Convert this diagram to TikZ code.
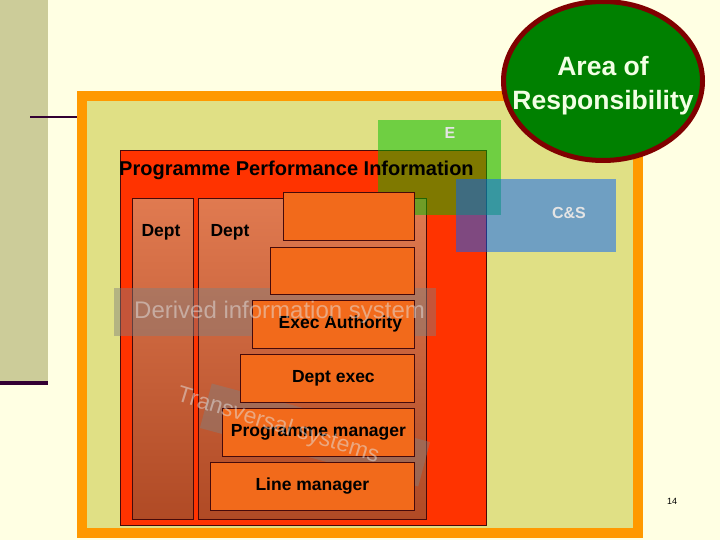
\documentclass[tikz,border=0pt]{standalone}
\usepackage{fontspec}
\setmainfont{Liberation Sans}
\usetikzlibrary{shapes.geometric, positioning, calc}

\definecolor{cream}{RGB}{255,255,227}
\definecolor{sidebar}{RGB}{204,204,153}
\definecolor{plum}{RGB}{51,0,51}
\definecolor{khaki}{RGB}{224,224,133}
\definecolor{frameorange}{RGB}{255,153,0}
\definecolor{ppired}{RGB}{255,51,0}
\definecolor{deptlight}{RGB}{224,122,80}
\definecolor{deptdark}{RGB}{176,74,37}
\definecolor{rankorange}{RGB}{242,106,27}
\definecolor{edgebrown}{RGB}{70,10,10}
\definecolor{aorgreen}{RGB}{0,128,0}
\definecolor{aorred}{RGB}{128,0,0}
\definecolor{egreen}{RGB}{0,192,0}
\definecolor{csblue}{RGB}{0,96,255}
\definecolor{ghost}{RGB}{228,228,228}
\definecolor{aortext}{RGB}{242,255,228}

\begin{document}
\begin{tikzpicture}[
    x=1pt, y=-1pt,
    outerframe/.style={rectangle, draw=frameorange, line width=10pt, fill=khaki, anchor=north west, inner sep=0pt},
    ppibox/.style={rectangle, draw=edgebrown, line width=0.8pt, fill=ppired, anchor=north west, inner sep=0pt},
    deptcol/.style={rectangle, draw=edgebrown, line width=0.8pt, top color=deptlight, bottom color=deptdark, anchor=north west, inner sep=0pt, minimum height=321pt},
    rankbox/.style={rectangle, draw=edgebrown, line width=0.8pt, fill=rankorange, anchor=north west, inner sep=0pt, minimum height=48pt, align=center, font=\fontsize{17.5}{20}\selectfont\bfseries, text=black},
    tintbox/.style={rectangle, fill opacity=0.5, anchor=north west, inner sep=0pt},
    band/.style={rectangle, fill=gray, fill opacity=0.45, inner sep=0pt},
    ghosttext/.style={text=ghost, text opacity=0.5, inner sep=0pt},
    boldtext/.style={font=\fontsize{17.5}{20}\selectfont\bfseries, inner sep=0pt},
    tagtext/.style={font=\fontsize{16}{18}\selectfont\bfseries, text=ghost, inner sep=0pt}
]
\useasboundingbox[fill=cream] (0,0) rectangle (720,540);

% ==================== Slide Decoration ====================
\node[rectangle, fill=sidebar, anchor=north west, inner sep=0pt, minimum width=48pt, minimum height=383pt] (Sidebar) at (0,0) {};
\draw[plum, line width=4pt] (Sidebar.south west) -- (Sidebar.south east);

\node[outerframe, minimum width=556pt, minimum height=437pt] (Frame) at (77,91) {};
\coordinate (tick) at (30,117);
\draw[plum, line width=1.5pt] (tick) -- (tick -| Frame.west);

% ==================== Programme Performance Information ====================
\node[ppibox, minimum width=366pt, minimum height=375pt] (PPI) at (120,150) {};

\node[deptcol, minimum width=61pt] (DeptA) at (132,198) {};
\node[deptcol, minimum width=228pt] (DeptB) at (198,198) {};

% ==================== Areas of Responsibility ====================
\node[tintbox, fill=egreen, minimum width=123pt, minimum height=95pt] (Ebox) at (378,120) {};
\node[tintbox, fill=csblue, minimum width=160pt, minimum height=73pt] (CSbox) at (456,179) {};

\node[boldtext, font=\fontsize{20}{22}\selectfont\bfseries, anchor=west] (PPItitle) at (119,170) {Programme Performance Information};
\node[boldtext] (DeptAtxt) at (161,232) {Dept};
\node[boldtext] (DeptBtxt) at (230,232) {Dept};

% ==================== Information Systems ====================
\node[band, anchor=north west, minimum width=322pt, minimum height=48pt] (Derived) at (114,288) {};
\node[band, rotate=-15, minimum width=226pt, minimum height=46pt] (Transversal) at (315,435) {};

% ==================== Hierarchy ====================
\node[rankbox, minimum width=131pt] (RankTop) at (283,192) {};
\node[rankbox, minimum width=144pt, minimum height=47pt] (RankSecond) at (270,247) {};
\node[rankbox, minimum width=162pt] (ExecAuth) at (252,300) {\hspace{14pt}Exec Authority};
\node[rankbox, minimum width=174pt] (DeptExec) at (240,354) {\hspace{12pt}Dept exec};
\node[rankbox, minimum width=192pt] (ProgMgr) at (222,408) {Programme manager};
\node[rankbox, minimum width=204pt] (LineMgr) at (210,462) {Line manager};

\node[ghosttext, anchor=west, font=\fontsize{24}{26}\selectfont] (DerivedTxt) at (134,312) {Derived information system};
\node[ghosttext, rotate=-17, font=\fontsize{23}{25}\selectfont] (TransversalTxt) at (278,426) {Transversal systems};

\node[tagtext] (Etxt) at (450,133) {E};
\node[tagtext] (CStxt) at (569,213) {C\&S};

% ==================== Area of Responsibility ====================
\node[ellipse, draw=aorred, line width=5pt, fill=aorgreen, minimum width=199pt, minimum height=159pt, inner sep=0pt,
      text=aortext, align=center, font=\fontsize{26.5}{34}\selectfont\bfseries] (AoR) at (603,81)
      {\makebox[0pt]{\raisebox{-12pt}[0pt][0pt]{Area of}}\\\makebox[0pt]{\raisebox{-12pt}[0pt][0pt]{Responsibility}}};

\node[font=\fontsize{9}{10}\selectfont, inner sep=0pt] (PageNo) at (672,501) {14};

\end{tikzpicture}
\end{document}
